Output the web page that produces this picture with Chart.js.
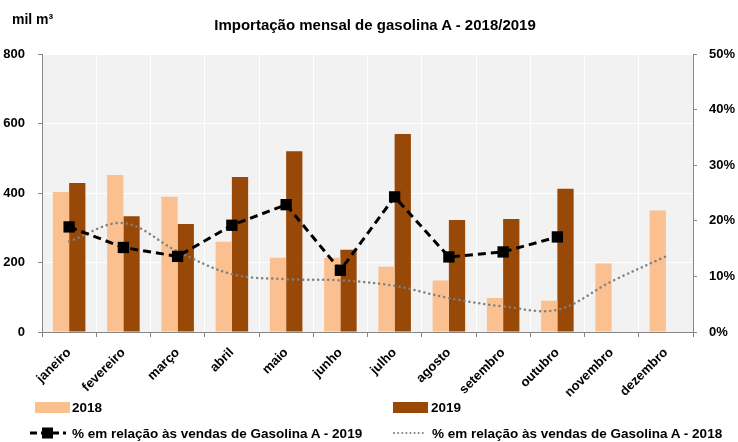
<!DOCTYPE html>
<html>
<head>
<meta charset="utf-8">
<script src="https://cdn.jsdelivr.net/npm/chart.js@4.4.0/dist/chart.umd.min.js"></script>
<style>
  body { margin: 0; background: #fff; font-family: "Liberation Sans", Arial, sans-serif; }
  #wrap { position: relative; width: 738px; height: 442px; }
  canvas { position: absolute; left: 0; top: 0; }
  .t { position: absolute; font-weight: bold; white-space: nowrap; color: #000; line-height: 1; }
  .sw { position: absolute; }
</style>
</head>
<body>
<div id="wrap">
  <canvas id="chart" width="738" height="442"></canvas>
  <div class="t" style="left:12px; top:12px; font-size:14px;">mil m³</div>
  <div class="t" id="title" style="left:375px; top:17px; font-size:15px; transform:translateX(-50%);">Importação mensal de gasolina A - 2018/2019</div>

  <div class="sw" style="left:35px; top:402px; width:35px; height:11px; background:#FAC090;"></div>
  <div class="t" style="left:72px; top:401px; font-size:13.5px;">2018</div>
  <div class="sw" style="left:393px; top:402px; width:35px; height:11px; background:#984807;"></div>
  <div class="t" style="left:431px; top:401px; font-size:13.5px;">2019</div>

  <svg class="sw" style="left:28px; top:426px;" width="40" height="14">
    <line x1="2" y1="7" x2="38" y2="7" stroke="#000" stroke-width="3" stroke-dasharray="7,4"/>
    <rect x="14" y="1.5" width="11" height="11" fill="#000"/>
  </svg>
  <div class="t" style="left:72px; top:427px; font-size:13.5px;">% em relação às vendas de Gasolina A - 2019</div>
  <svg class="sw" style="left:392px; top:426px;" width="36" height="14">
    <line x1="2" y1="7" x2="34" y2="7" stroke="#808080" stroke-width="2" stroke-linecap="round" stroke-dasharray="0.1,4"/>
  </svg>
  <div class="t" style="left:432px; top:427px; font-size:13.5px;">% em relação às vendas de Gasolina A - 2018</div>
</div>

<script>
const months = ['janeiro', 'fevereiro', 'março', 'abril', 'maio', 'junho',
                'julho', 'agosto', 'setembro', 'outubro', 'novembro', 'dezembro'];
// importação em mil m³
const imp2018 = [403, 452, 389, 260, 214, 214, 188, 148, 98, 90, 197, 350];
const imp2019 = [429, 333, 311, 446, 520, 237, 570, 322, 325, 412, null, null];
// % em relação às vendas
const pct2019 = [18.9, 15.2, 13.6, 19.2, 22.9, 11.1, 24.3, 13.5, 14.4, 17.1, null, null];
const pct2018 = [16.3, 19.6, 14.5, 10.4, 9.5, 9.3, 8.3, 6.1, 4.6, 4.0, 9.1, 13.6];

const axisGrey = '#868686';
const tickFont = { family: '"Liberation Sans", Arial, sans-serif', weight: 'bold', size: 13 };

// fundo cinza da área do gráfico
const plotBg = {
  id: 'plotBg',
  beforeDraw(chart) {
    const a = chart.chartArea;
    const ctx = chart.ctx;
    ctx.save();
    ctx.fillStyle = '#F2F2F2';
    ctx.fillRect(a.left, a.top, a.right - a.left, a.bottom - a.top);
    ctx.restore();
  }
};

new Chart(document.getElementById('chart').getContext('2d'), {
  type: 'bar',
  data: {
    labels: months,
    datasets: [
      {
        type: 'line',
        label: '% em relação às vendas de Gasolina A - 2019',
        data: pct2019,
        yAxisID: 'y1',
        borderColor: '#000',
        borderWidth: 3,
        borderDash: [8, 5],
        pointStyle: 'rect',
        pointRadius: 8,
        pointBackgroundColor: '#000',
        pointBorderWidth: 0,
        tension: 0,
        order: 0
      },
      {
        type: 'line',
        label: '% em relação às vendas de Gasolina A - 2018',
        data: pct2018,
        yAxisID: 'y1',
        borderColor: '#808080',
        borderWidth: 2.5,
        borderDash: [0.1, 5],
        borderCapStyle: 'round',
        pointRadius: 0,
        tension: 0.35,
        order: 1
      },
      {
        label: '2018',
        data: imp2018,
        yAxisID: 'y',
        backgroundColor: '#FAC090',
        borderWidth: 0,
        categoryPercentage: 0.6,
        barPercentage: 1.0,
        order: 2
      },
      {
        label: '2019',
        data: imp2019,
        yAxisID: 'y',
        backgroundColor: '#984807',
        borderWidth: 0,
        categoryPercentage: 0.6,
        barPercentage: 1.0,
        order: 2
      }
    ]
  },
  options: {
    responsive: false,
    animation: false,
    layout: { padding: { top: 54, bottom: 40, left: 0, right: 0 } },
    plugins: {
      legend: { display: false },
      title: { display: false },
      tooltip: { enabled: false }
    },
    scales: {
      x: {
        grid: { color: '#fff', lineWidth: 1, tickColor: axisGrey, tickLength: 5, offset: true },
        border: { color: axisGrey },
        ticks: { color: '#000', font: { ...tickFont, size: 13 }, minRotation: 45, maxRotation: 45, padding: 8 },
        afterFit(scale) { scale.height = 70; }
      },
      y: {
        position: 'left',
        min: 0,
        max: 800,
        grid: { color: '#fff', tickColor: axisGrey, tickLength: 4 },
        border: { color: axisGrey },
        ticks: { stepSize: 200, color: '#000', font: tickFont, padding: 13 },
        afterFit(scale) { scale.width = 42; }
      },
      y1: {
        position: 'right',
        min: 0,
        max: 50,
        grid: { drawOnChartArea: false, tickColor: axisGrey, tickLength: 4 },
        border: { color: axisGrey },
        ticks: { stepSize: 10, color: '#000', font: tickFont, padding: 12, callback: v => v + '%' },
        afterFit(scale) { scale.width = 45; }
      }
    }
  },
  plugins: [plotBg]
});
</script>
</body>
</html>
